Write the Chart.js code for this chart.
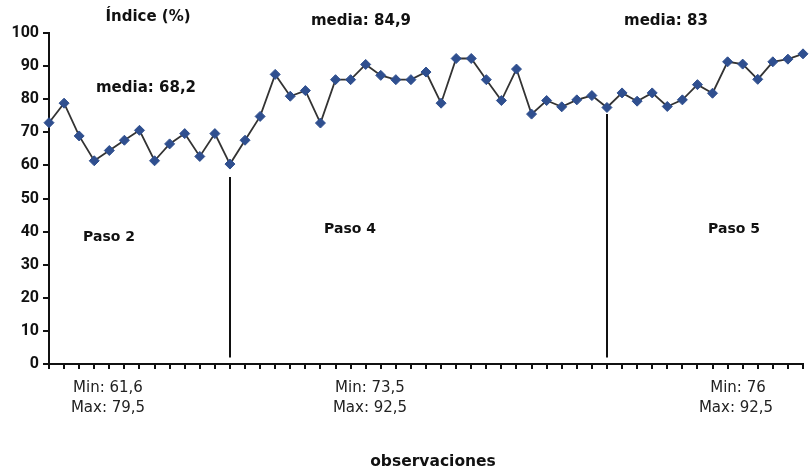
<!DOCTYPE html>
<html>
<head>
<meta charset="utf-8">
<script src="https://cdn.jsdelivr.net/npm/chart.js@4/dist/chart.umd.min.js"></script>
<style>
  html, body { margin: 0; padding: 0; background: #fff; }
  #wrap { width: 810px; height: 471px; position: relative; }
</style>
</head>
<body>
<div id="wrap"><canvas id="indiceChart"></canvas></div>
<script>
// observaciones 1..51
const observaciones = Array.from({ length: 51 }, (_, i) => String(i + 1));

// Índice (%)
const indice = [
  72.9, 78.8, 68.9, 61.4, 64.5, 67.6, 70.6, 61.4, 66.5, 69.6, 62.7, 69.6, 60.4,
  67.6, 74.8, 87.5, 80.9, 82.6, 72.8, 85.9, 85.9, 90.5, 87.2, 85.9, 85.9, 88.2,
  78.8, 92.3, 92.3, 85.9, 79.6, 89.1, 75.5, 79.6, 77.7, 79.8, 81.1, 77.5, 81.9,
  79.4, 81.9, 77.8, 79.8, 84.4, 81.8, 91.3, 90.6, 86.0, 91.3, 92.1, 93.7
];

const yTicks = [0, 10, 20, 30, 40, 50, 60, 70, 80, 90, 100];

// separadores de pasos (índice de la observación, valor superior, valor inferior)
const separadorIndice = [12, 37];
const separadorTope = [56.5, 75.5];
const separadorBase = [2, 2];

// textos
const mediaTextos = ['media: 68,2', 'media: 84,9', 'media: 83'];
const pasoTextos = ['Paso 2', 'Paso 4', 'Paso 5'];
const minTextos = ['Min: 61,6', 'Min: 73,5', 'Min: 76'];
const maxTextos = ['Max: 79,5', 'Max: 92,5', 'Max: 92,5'];

const textosPlugin = {
  id: 'textos',
  afterDraw(chart) {
    const ctx = chart.ctx;
    const xs = chart.scales.x;
    const ys = chart.scales.y;

    // Lineas verticales entre pasos
    ctx.save();
    ctx.strokeStyle = '#111';
    ctx.lineWidth = 2;
    for (let i = 0; i < separadorIndice.length; i++) {
      let x = Math.round(xs.getPixelForValue(separadorIndice[i]));
      ctx.beginPath();
      ctx.moveTo(x, ys.getPixelForValue(separadorTope[i]));
      ctx.lineTo(x, ys.getPixelForValue(separadorBase[i]));
      ctx.stroke();
    }

    ctx.textAlign = 'center';
    ctx.textBaseline = 'middle';
    ctx.fillStyle = '#111';

    ctx.font = 'bold 15px "DejaVu Sans"';
    ctx.fillText('Índice (%)', 148, 17);

    ctx.fillText(mediaTextos[0], 146, 88);
    ctx.fillText(mediaTextos[1], 361, 21);
    ctx.fillText(mediaTextos[2], 666, 21);

    ctx.font = 'bold 14px "DejaVu Sans"';
    ctx.fillText(pasoTextos[0], 109, 237);
    ctx.fillText(pasoTextos[1], 350, 229);
    ctx.fillText(pasoTextos[2], 734, 229);

    ctx.font = '15px "DejaVu Sans"';
    ctx.fillStyle = '#222';
    let minX = [108, 370, 738];
    let maxX = [108, 370, 736];
    for (let i = 0; i < 3; i++) {
      ctx.fillText(minTextos[i], minX[i], 388);
      ctx.fillText(maxTextos[i], maxX[i], 408);
    }

    ctx.font = 'bold 15.5px "DejaVu Sans"';
    ctx.fillStyle = '#111';
    ctx.fillText('observaciones', 433, 462);
    ctx.restore();
  }
};

let ctx = document.getElementById('indiceChart').getContext('2d');
let chart = new Chart(ctx, {
  type: 'line',
  data: {
    labels: observaciones,
    datasets: [{
      label: 'Índice (%)',
      data: indice,
      borderColor: '#333333',
      borderWidth: 1.8,
      pointStyle: 'rectRot',
      pointRadius: 5,
      pointBackgroundColor: '#2f4f8f',
      pointBorderColor: '#2f4f8f',
      pointBorderWidth: 1,
      tension: 0,
      fill: false,
      clip: false
    }]
  },
  options: {
    responsive: true,
    maintainAspectRatio: false,
    animation: false,
    events: [],
    layout: { padding: { top: 33, right: 7, bottom: 0, left: 0 } },
    plugins: {
      legend: { display: false },
      tooltip: { enabled: false }
    },
    scales: {
      x: {
        type: 'category',
        offset: false,
        grid: { display: true, drawOnChartArea: false, drawTicks: true, tickLength: 5, color: '#111', lineWidth: 2 },
        border: { display: true, color: '#111', width: 2 },
        ticks: { display: false, autoSkip: false },
        afterFit(s) { s.height = 107; }
      },
      y: {
        min: 0,
        max: 100,
        afterBuildTicks(s) { s.ticks = yTicks.map(v => ({ value: v })); },
        grid: { display: true, drawOnChartArea: false, drawTicks: true, tickLength: 6, color: '#111', lineWidth: 2 },
        border: { display: true, color: '#111', width: 2 },
        ticks: {
          color: '#111',
          padding: 4,
          font: { family: 'Roboto', weight: 'bold', size: 16 }
        },
        afterFit(s) { s.width = 49; }
      }
    }
  },
  plugins: [textosPlugin]
});
</script>
</body>
</html>
